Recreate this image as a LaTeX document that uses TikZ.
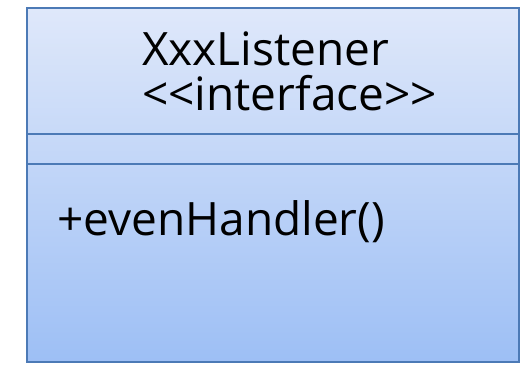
\documentclass[tikz,border=0pt]{standalone}
\usepackage{fontspec}
\setmainfont{Open Sans}
\usepackage{tikz}

\definecolor{umlline}{RGB}{76,122,182}
\definecolor{umltop}{RGB}{223,232,250}
\definecolor{umlbottom}{RGB}{157,191,245}

\tikzset{
	umltext/.style={anchor=base west, inner sep=0pt, font=\fontsize{46}{46}\selectfont}
}

\begin{document}
\begin{tikzpicture}[x=1pt, y=-1pt]
\useasboundingbox (0,0) rectangle (524,364);

\shade[top color=umltop, bottom color=umlbottom] (27,8) rectangle (519,362);

\foreach \y in {134, 164}
{
	\draw[umlline, line width=2pt] (27,\y) -- (519,\y);
}
\draw[umlline, line width=2pt] (27,8) rectangle (519,362);

\node[umltext] (name) at (142,65) {XxxListener};
\node[umltext] (stereo) at (142,110) {<{}<interface>{}>};
\node[umltext] (method) at (57,235) {+evenHandler()};
\end{tikzpicture}
\end{document}
